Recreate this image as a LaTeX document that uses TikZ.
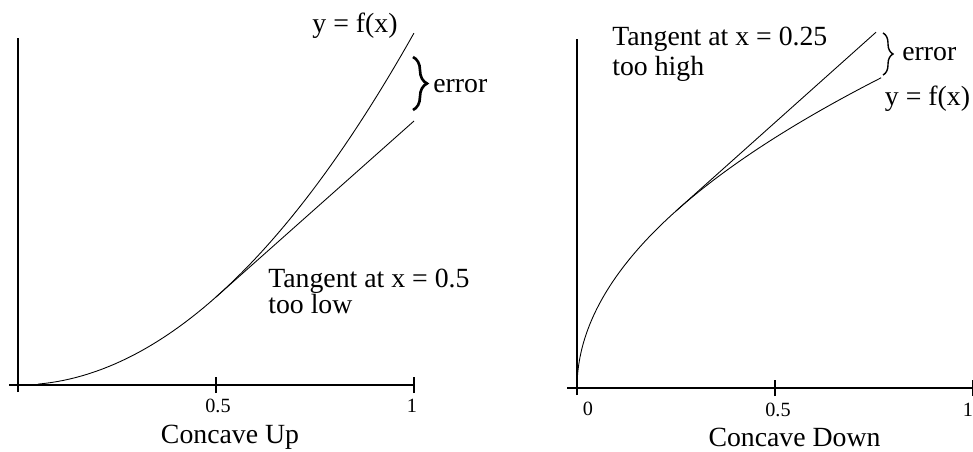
\documentclass[tikz,border=0pt]{standalone}
\usepackage{fontspec}
\setmainfont{Liberation Serif}
\usetikzlibrary{positioning,decorations.pathreplacing}

\begin{document}
\begin{tikzpicture}[every node/.style={font=\fontsize{15.8}{14.7}\selectfont, inner sep=0pt}, tick/.style={font=\fontsize{11.5}{12}\selectfont}, axline/.style={line width=0.85pt}, fline/.style={line width=0.5pt}, errbrace/.style={decorate, decoration={brace, amplitude=#1}}]
\useasboundingbox (0,0) rectangle (19.46,9.02);
\begin{scope}[shift={(0.36,1.32)}, x=7.92cm, y=7.04cm]
\draw[axline] (0,-0.14cm) -- (0,0.986);
\draw[axline] (-0.18cm,0) -- (1.0025,0);
\foreach \t in {0.5,1} \draw[axline] (\t,0) ++(0,-0.16cm) -- ++(0,0.32cm);
\draw[fline] plot[domain=0.05:1, samples=60] (\x,{\x*\x});
\draw[fline] (0.5,0.25) -- (1,0.75);
\end{scope}
\begin{scope}[shift={(11.54,1.26)}, x=7.92cm, y=7.08cm]
\draw[axline] (0,-0.14cm) -- (0,0.986);
\draw[axline] (-0.2cm,0) -- (1.01,0);
\foreach \t in {0.5,1} \draw[axline] (\t,0) ++(0,-0.16cm) -- ++(0,0.32cm);
\draw[fline] plot[domain=0:0.8775, samples=80] ({\x*\x},\x);
\draw[fline] (0.25,0.5) -- (0.755,1.005);
\end{scope}
\node[tick] (lhalf) at (4.36,0.90) {0.5};
\node[tick] (lone) at (8.24,0.90) {1};
\node[anchor=base] (lcap) at (4.60,0.16) {Concave Up};
\node[anchor=base] (lfx) at (7.10,8.38) {y = f(x)};
\node[anchor=base west] (lerr) at (8.66,7.18) {error};
\node[anchor=north west, align=left] (ltan) at (5.36,3.64) {Tangent at x = 0.5\\too low};
\coordinate (lbtop) at (8.26,7.88);
\coordinate (lbbot) at (8.26,6.82);
\draw[errbrace=0.28cm, line width=1.5pt] (lbtop) -- (lbbot);
\node[tick] (rzero) at (11.76,0.84) {0};
\node[tick] (rhalf) at (15.56,0.82) {0.5};
\node[tick] (rone) at (19.36,0.82) {1};
\node[anchor=base] (rcap) at (15.89,0.10) {Concave Down};
\node[anchor=north west, align=left] (rtan) at (12.24,8.48) {Tangent at x = 0.25\\[2.3pt]too high};
\node[anchor=base west] (rerr) at (18.04,7.82) {error};
\node[anchor=base] (rfx) at (18.55,6.92) {y = f(x)};
\coordinate (rbtop) at (17.66,8.36);
\coordinate (rbbot) at (17.66,7.52);
\draw[errbrace=0.2cm, line width=0.8pt] (rbtop) -- (rbbot);
\end{tikzpicture}
\end{document}
